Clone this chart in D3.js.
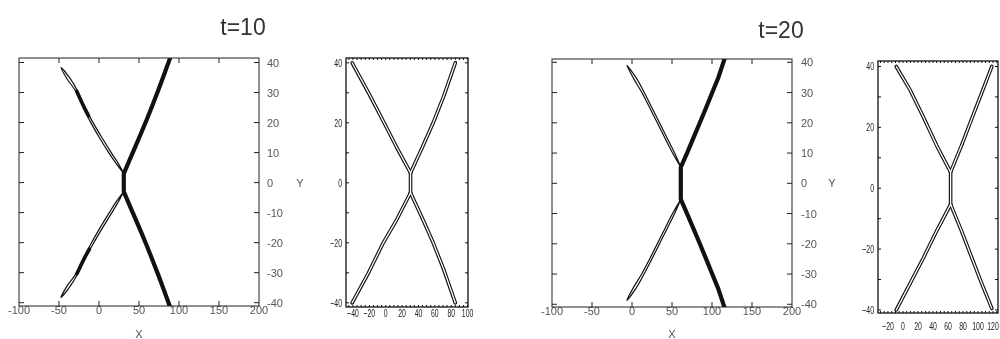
<!DOCTYPE html>
<html><head><meta charset="utf-8">
<script src="https://cdn.jsdelivr.net/npm/d3@7"></script>
<style>body{margin:0;background:#fff}svg{display:block}text{-webkit-font-smoothing:antialiased}</style>
</head><body>
<svg id="fig" width="1000" height="339" style="will-change:transform"></svg>
<script>
// ---- tick labels -------------------------------------------------------
const titles = ["t=10", "t=20"];
const bigXTicks = [-100, -50, 0, 50, 100, 150, 200];
const bigYTicks = [-40, -30, -20, -10, 0, 10, 20, 30, 40];
const smallXTicks10 = [-40, -20, 0, 20, 40, 60, 80, 100];
const smallXTicks20 = [-20, 0, 20, 40, 60, 80, 100, 120];
const smallYTicks = [-40, -20, 0, 20, 40];

// ---- t=10, wide view: left arms are thin filaments (centre line + half thickness in x)
const t10UpperLeft = [[31,3],[22.5,6.5],[13.7,10],[2,15],[-9.5,20.3],[-19,25.3],[-28,30.5],[-38,34.6],[-47.5,38.3]];
const t10LowerLeft = [[31,-3],[22.5,-6.5],[14.5,-10],[3,-15],[-8.5,-20.3],[-18.5,-25.3],[-27.5,-30.3],[-38,-34.5],[-47.5,-38.3]];
const t10LeftHalf  = [0, 1.4, 1.6, 1.6, 1.4, 1.1, 1.2, 2.1, 0];
// densest part of each left filament, where both walls touch
const t10UpperDense = [[-13,22.2],[-19,25.3],[-28,30.5]];
const t10LowerDense = [[-12,-22.2],[-18.5,-25.3],[-27.5,-30.3]];
// right arms collapse into a single dense sheet
const t10UpperRight = [[31,3],[38,7.4],[45.3,11.9],[52.7,16.5],[60,21.2],[67.2,26],[74.3,30.9],[81.3,35.9],[88.5,41.2],[89.2,42]];
const t10LowerRight = [[31,-3],[38,-7.4],[45.3,-11.9],[52.7,-16.5],[60,-21.2],[67.2,-26],[74.3,-30.9],[81.3,-35.9],[88.5,-41.2],[89.2,-42]];

// ---- t=20, wide view
const t20UpperLeft = [[61,5.3],[52,10],[42.5,15],[33,20],[23.5,25],[13.8,30],[4,34.6],[-6.5,39]];
const t20LowerLeft = [[61,-5.3],[52,-10],[42.5,-15],[33,-20],[23.5,-25],[13.6,-30],[3.6,-34.5],[-6.5,-38.7]];
const t20LeftHalf  = [0, 1.3, 1.4, 1.4, 1.4, 1.5, 1.9, 0];
const t20UpperRight = [[61,5.3],[68.8,10],[76.8,15],[84.8,20],[92.6,25],[100.3,30],[108,35],[115.8,41.2],[116.6,42]];
const t20LowerRight = [[61,-5.3],[68.8,-10],[76.8,-15],[84.8,-20],[92.6,-25],[100.3,-30],[108,-35],[115.8,-41.2],[116.6,-42]];

// ---- close-up views: every arm drawn as a double-walled tube
const z10Arms = [
  [[30.3,3.3],[14,11.5],[-2,20],[-20,29.5],[-41,40]],
  [[30.3,3.3],[45,12],[58,20],[71,29],[85,40]],
  [[30.3,3.3],[30.3,-3.3]],
  [[30.3,-3.3],[14,-12],[-3,-20],[-21,-30],[-41,-40]],
  [[30.3,-3.3],[45,-12],[58,-20],[71,-29],[85,-40]]
];
const z20Arms = [
  [[63.5,5.3],[45,14],[27,23.5],[9,32.5],[-9,40]],
  [[63.5,5.3],[78,14],[92,23],[104.5,31],[118.5,40]],
  [[63.5,5.3],[63.5,-5.3]],
  [[63.5,-5.3],[45,-14],[27,-23],[9,-31.5],[-9,-40]],
  [[63.5,-5.3],[78,-14],[92,-23],[104.5,-31],[118.5,-39.5]]
];

const svg = d3.select("#fig");
const FONT = "'Liberation Sans', Arial, sans-serif";

// titles
svg.append("text").attr("x", 243).attr("y", 35).attr("text-anchor", "middle")
  .attr("font-family", FONT).attr("font-size", 23).attr("fill", "#333").text(titles[0]);
svg.append("text").attr("x", 781).attr("y", 38).attr("text-anchor", "middle")
  .attr("font-family", FONT).attr("font-size", 23).attr("fill", "#333").text(titles[1]);

let clipId = 0;
function frame(g, x, y) {
  const [x0, x1] = x.range(), [y0, y1] = y.range();
  const id = "clip" + (clipId++);
  g.append("clipPath").attr("id", id).append("rect")
    .attr("x", x0).attr("y", y1).attr("width", x1 - x0).attr("height", y0 - y1);
  return id;
}

// ---- wide panel -----------------------------------------------------------
function bigPanel(opts) {
  const x = d3.scaleLinear().domain([-100, 200]).range(opts.xr);
  const y = d3.scaleLinear().domain(opts.yd).range(opts.yr);
  const g = svg.append("g");
  const id = frame(g, x, y);
  const [x0, x1] = x.range(), [yb, yt] = y.range();
  const axisCol = "#222", L = 5, txt = "#555";

  bigYTicks.forEach(v => {
    g.append("line").attr("x1", x0).attr("x2", x0 + L).attr("y1", y(v)).attr("y2", y(v)).attr("stroke", axisCol);
    g.append("line").attr("x1", x1).attr("x2", x1 - L).attr("y1", y(v)).attr("y2", y(v)).attr("stroke", axisCol);
    g.append("text").attr("x", x1 + opts.labDx).attr("y", y(v) + 4)
      .attr("font-family", FONT).attr("font-size", 11).attr("fill", txt).text(v);
  });
  bigXTicks.forEach(v => {
    if (v > -100 && v < 200) {
      g.append("line").attr("x1", x(v)).attr("x2", x(v)).attr("y1", yt).attr("y2", yt + L).attr("stroke", axisCol);
      g.append("line").attr("x1", x(v)).attr("x2", x(v)).attr("y1", yb).attr("y2", yb - L).attr("stroke", axisCol);
    }
    g.append("text").attr("x", x(v)).attr("y", yb + 8).attr("text-anchor", "middle")
      .attr("font-family", FONT).attr("font-size", 11).attr("fill", txt).text(v);
  });
  g.append("text").attr("x", (x0 + x1) / 2).attr("y", 338).attr("text-anchor", "middle")
    .attr("font-family", FONT).attr("font-size", 11).attr("fill", txt).text("X");
  g.append("text").attr("x", x1 + opts.yLabDx).attr("y", y(0) + 4).attr("text-anchor", "middle")
    .attr("font-family", FONT).attr("font-size", 11).attr("fill", txt).text("Y");

  const plot = g.append("g").attr("clip-path", `url(#${id})`);
  const smooth = d3.line().x(d => x(d[0])).y(d => y(d[1])).curve(d3.curveCatmullRom.alpha(0.5));
  const straight = d3.line().x(d => x(d[0])).y(d => y(d[1]));

  // thin filaments: two walls joined at both ends
  [opts.upperLeft, opts.lowerLeft].forEach(arm => {
    const wallA = arm.map((p, i) => [p[0] - opts.half[i], p[1]]);
    const wallB = arm.map((p, i) => [p[0] + opts.half[i], p[1]]).reverse();
    plot.append("path").attr("d", smooth(wallA.concat(wallB.slice(1))))
      .attr("fill", "none").attr("stroke", "#111").attr("stroke-width", 1.2);
  });
  (opts.dense || []).forEach(seg => plot.append("path").attr("d", smooth(seg))
    .attr("fill", "none").attr("stroke", "#111").attr("stroke-width", 3.6).attr("stroke-linecap", "round"));

  // dense sheet: right arms joined through the vertical neck
  const sheet = opts.upperRight.slice().reverse().concat(opts.lowerRight);
  plot.append("path").attr("d", straight(sheet))
    .attr("fill", "none").attr("stroke", "#111").attr("stroke-width", 4.2)
    .attr("stroke-linejoin", "round");

  g.append("rect").attr("x", x0).attr("y", yt).attr("width", x1 - x0).attr("height", yb - yt)
    .attr("fill", "none").attr("stroke", axisCol).attr("stroke-width", 1);
}

// ---- close-up panel -------------------------------------------------------
function smallPanel(opts) {
  const x = d3.scaleLinear().domain(opts.xd).range(opts.xr);
  const y = d3.scaleLinear().domain(opts.yd).range(opts.yr);
  const g = svg.append("g");
  const id = frame(g, x, y);
  const [x0, x1] = x.range(), [yb, yt] = y.range();
  const col = "#111";

  const label = (px, py, txt, anchor) => {
    g.append("g").attr("transform", `translate(${px},${py}) scale(0.6,1)`)
      .append("text").attr("text-anchor", anchor)
      .attr("font-family", FONT).attr("font-size", 11.5).attr("fill", "#222").text(txt);
  };

  d3.range(Math.ceil(opts.xd[0] / 5) * 5, opts.xd[1], 5).forEach(v => {
    g.append("line").attr("x1", x(v)).attr("x2", x(v)).attr("y1", yt).attr("y2", yt + 2).attr("stroke", col).attr("stroke-width", 1);
    g.append("line").attr("x1", x(v)).attr("x2", x(v)).attr("y1", yb).attr("y2", yb - 2).attr("stroke", col).attr("stroke-width", 1);
  });
  d3.range(-40, 41, 10).forEach(v => {
    g.append("line").attr("x1", x0).attr("x2", x0 + 3).attr("y1", y(v)).attr("y2", y(v)).attr("stroke", col);
    g.append("line").attr("x1", x1).attr("x2", x1 - 3).attr("y1", y(v)).attr("y2", y(v)).attr("stroke", col);
  });
  smallYTicks.forEach(v => label(x0 - 4, y(v) + 4, String(v).replace("-", "\u2212"), "end"));
  opts.xTicks.forEach(v => label(x(v), yb + opts.xLabDy, String(v).replace("-", "\u2212"), "middle"));

  const plot = g.append("g").attr("clip-path", `url(#${id})`);
  const line = d3.line().x(d => x(d[0])).y(d => y(d[1]));
  // outer walls first, then hollow cores so the tubes merge at the neck
  opts.arms.forEach(a => plot.append("path").attr("d", line(a)).attr("fill", "none")
    .attr("stroke", "#111").attr("stroke-width", 3.6).attr("stroke-linecap", "round").attr("stroke-linejoin", "round"));
  opts.arms.forEach(a => plot.append("path").attr("d", line(a)).attr("fill", "none")
    .attr("stroke", "#fff").attr("stroke-width", 1.3).attr("stroke-linecap", "round").attr("stroke-linejoin", "round"));

  g.append("rect").attr("x", x0).attr("y", yt).attr("width", x1 - x0).attr("height", yb - yt)
    .attr("fill", "none").attr("stroke", col).attr("stroke-width", 1.3);
}

bigPanel({
  xr: [19, 259], yd: [-41.1, 41.5], yr: [306, 58], labDx: 8, yLabDx: 41,
  upperLeft: t10UpperLeft, lowerLeft: t10LowerLeft, half: t10LeftHalf,
  dense: [t10UpperDense, t10LowerDense],
  upperRight: t10UpperRight, lowerRight: t10LowerRight
});
smallPanel({
  xd: [-48.5, 100.5], xr: [346, 468], yd: [-41.4, 41.6], yr: [307, 58],
  xTicks: smallXTicks10, xLabDy: 10, arms: z10Arms
});
bigPanel({
  xr: [552, 792], yd: [-40.9, 41.1], yr: [307, 59], labDx: 9, yLabDx: 40,
  upperLeft: t20UpperLeft, lowerLeft: t20LowerLeft, half: t20LeftHalf,
  upperRight: t20UpperRight, lowerRight: t20LowerRight
});
smallPanel({
  xd: [-33.3, 126.7], xr: [878, 998], yd: [-41, 41.8], yr: [313, 61],
  xTicks: smallXTicks20, xLabDy: 17, arms: z20Arms
});
</script>
</body></html>
